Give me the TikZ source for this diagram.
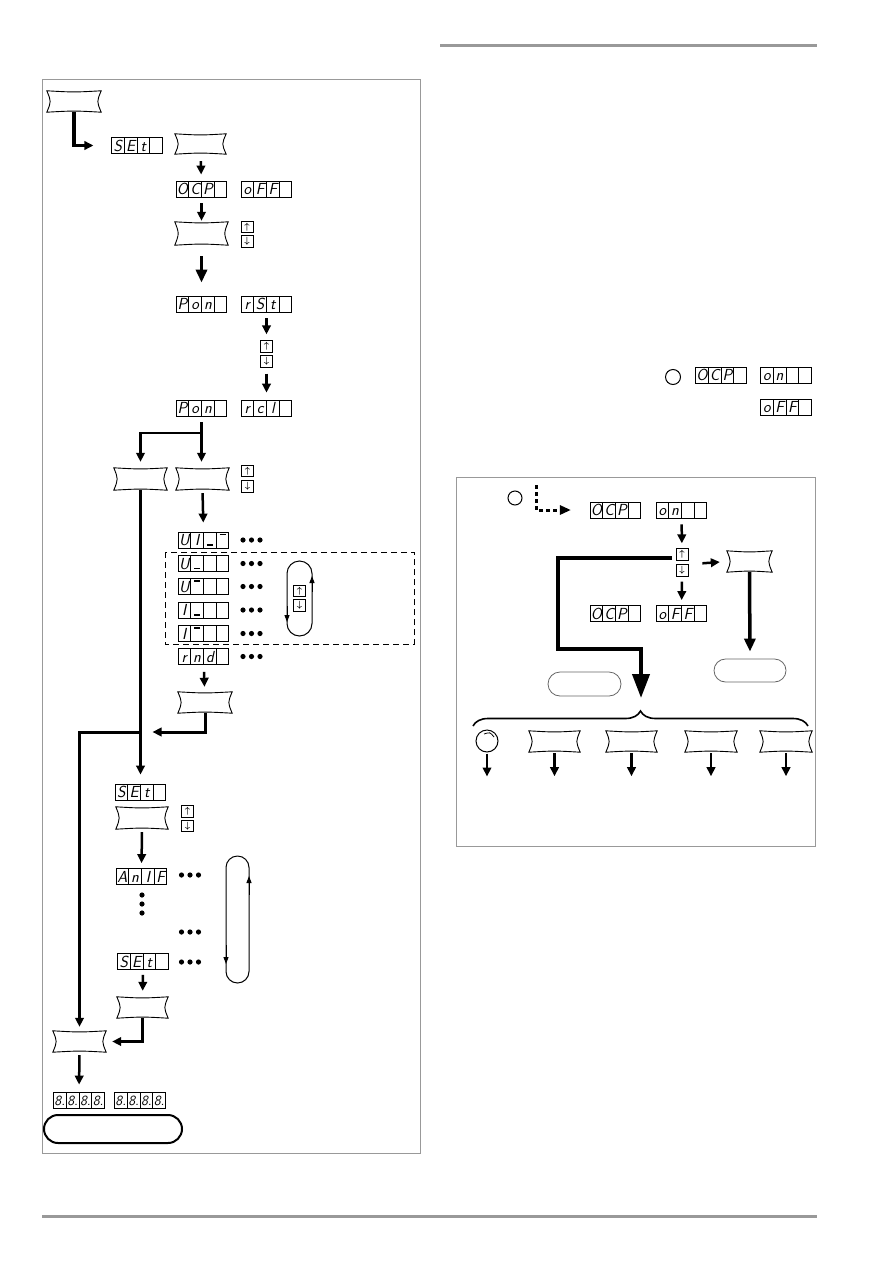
\documentclass[tikz,border=0pt]{standalone}
\usetikzlibrary{arrows.meta,shapes.multipart,calc,decorations.pathreplacing}
\newcommand\segfont{\fontsize{16}{16}\selectfont\sffamily\slshape}
\newcommand\cell[1]{\makebox[12pt][c]{\rule[-2.5pt]{0pt}{16pt}#1}}
\newcommand\segs[4]{\cell{#1}\nodepart{two}\cell{#2}\nodepart{three}\cell{#3}\nodepart{four}\cell{#4}}
\newcommand\segtop{\rule[10.5pt]{6pt}{1.2pt}}
\newcommand\segbot{\rule[0pt]{6pt}{1.2pt}}
\begin{document}
\begin{tikzpicture}[x=1pt, y=-1pt,
    disp/.style={draw, line width=0.8pt, rectangle split, rectangle split horizontal,
      rectangle split parts=4, inner sep=0pt, font=\segfont},
    keycap/.style={minimum width=#1, minimum height=21pt, inner sep=0pt},
    keycap/.default=52pt,
    pillow/.style={line width=0.9pt, fill=white},
    arrkey/.style={draw, line width=0.8pt, minimum width=12pt, minimum height=11.5pt,
      inner sep=0pt, font=\small\boldmath},
    dot/.style={fill=black},
    pill/.style={draw, rounded corners=11.5pt, minimum height=23pt, inner sep=0pt},
    flow/.style={line width=2.5pt, -{Triangle[length=9pt,width=8.5pt]}},
    bigflow/.style={line width=3.5pt, -{Triangle[length=13pt,width=11pt]}},
    hugeflow/.style={line width=4pt, -{Triangle[length=24pt,width=17pt]}},
    loopline/.style={line width=1pt},
    looptip/.style={line width=1pt, -{Triangle[length=7pt,width=5pt]}},
    frame/.style={draw=black!40, line width=1pt},
    rule/.style={draw=black!40, line width=3pt}
]
  \useasboundingbox (0,0) rectangle (893,1263);
  \draw[rule] (440,46) -- (817,46);
  \draw[rule] (42,1216) -- (817,1216);
  \draw[frame] (42,79) rectangle (420,1153);
  \draw[frame] (456,477) rectangle (815,846);

  % left panel
  \node[keycap=54pt] (k1) at (74,101.5) {};
  \node[disp] (set1) at (137,145.5) {\segs{S}{E}{t}{}};
  \node[keycap=51pt, minimum height=20pt] (k2) at (200.5,144) {};
  \node[disp] (ocp1) at (201.5,189) {\segs{O}{C}{P}{}};
  \node[disp] (off1) at (266.5,189) {\segs{o}{F}{F}{}};
  \node[keycap=53pt, minimum height=23pt] (k3) at (201.5,233.5) {};
  \node[arrkey] (up1) at (247,227) {$\uparrow$};
  \node[arrkey] (dn1) at (247,241.5) {$\downarrow$};
  \node[disp] (pon1) at (201.5,304) {\segs{P}{o}{n}{}};
  \node[disp] (rst) at (266.5,304) {\segs{r}{S}{t}{}};
  \node[arrkey] (up2) at (266.5,346.5) {$\uparrow$};
  \node[arrkey] (dn2) at (266.5,361.5) {$\downarrow$};
  \node[disp] (pon2) at (201.5,408) {\segs{P}{o}{n}{}};
  \node[disp] (rcl) at (266.5,408) {\segs{r}{c}{l}{}};
  \node[keycap=53pt, minimum height=22pt] (k4) at (140.5,479) {};
  \node[keycap=53pt, minimum height=22pt] (k5) at (202.5,479) {};
  \node[arrkey] (up3) at (247.5,471) {$\uparrow$};
  \node[arrkey] (dn3) at (247.5,486.5) {$\downarrow$};
  \node[disp] (ui) at (203.5,540) {\segs{U}{I}{\segbot}{\segtop}};
  \node[disp] (u1) at (203.5,563.5) {\segs{U}{\segbot}{}{}};
  \node[disp] (u2) at (203.5,586.5) {\segs{U}{\segtop}{}{}};
  \node[disp] (i1) at (203.5,610) {\segs{I}{\segbot}{}{}};
  \node[disp] (i2) at (203.5,633.5) {\segs{I}{\segtop}{}{}};
  \node[disp] (rnd) at (203.5,656.5) {\segs{r}{n}{d}{}};
  \foreach \y in {540,563.5,586.5,610,633.5,656.5}
    \foreach \x in {243,251.5,260}
      \fill[dot] (\x,\y) circle (2.6pt);
  \draw[line width=0.8pt, dash pattern=on 6pt off 4pt] (165,552) rectangle (414,644);
  \node[arrkey] (up4) at (299.5,591) {$\uparrow$};
  \node[arrkey] (dn4) at (299.5,605.5) {$\downarrow$};
  \draw[loopline, rounded corners=12.5pt] (287,561) rectangle (312,636);
  \draw[looptip] (312,592) -- (312,576);
  \draw[looptip] (287,606) -- (287,622);
  \node[keycap=54pt] (k6) at (205,702.5) {};
  \node[disp] (set2) at (140.5,792) {\segs{S}{E}{t}{}};
  \node[keycap=52pt, minimum height=22pt] (k7) at (142,818) {};
  \node[arrkey] (up5) at (187.5,811.5) {$\uparrow$};
  \node[arrkey] (dn5) at (187.5,826) {$\downarrow$};
  \node[disp] (anif) at (141.5,876.5) {\segs{A}{n}{I}{F}};
  \foreach \y in {875,932,962}
    \foreach \x in {181.5,190,198.5}
      \fill[dot] (\x,\y) circle (2.6pt);
  \foreach \y in {895,904,913}
    \fill[dot] (142,\y) circle (2.6pt);
  \node[disp] (set3) at (143,961.5) {\segs{S}{E}{t}{}};
  \draw[loopline, rounded corners=11.5pt] (226,856) rectangle (249,983);
  \draw[looptip] (249,895) -- (249,876);
  \draw[looptip] (226,945) -- (226,964);
  \node[keycap=51pt] (k8) at (142.5,1007.5) {};
  \node[keycap=53pt] (k9) at (79.5,1041.5) {};
  \node[disp, font=\fontsize{14}{14}\selectfont\sffamily\slshape] (num1) at (79,1100)
    {\segs{8.}{8.}{8.}{8.}};
  \node[disp, font=\fontsize{14}{14}\selectfont\sffamily\slshape] (num2) at (140,1100)
    {\segs{8.}{8.}{8.}{8.}};
  \node[pill, line width=2pt, rounded corners=14pt, minimum width=138pt, minimum height=28pt]
    (pill1) at (113,1129) {};
  \coordinate (lb) at (140.5,732);

  \draw[flow, line width=3.5pt, shorten >=18pt] (k1.south) |- (set1.west);
  \draw[flow, shorten <=7pt, shorten >=6pt] (k2) -- (ocp1);
  \draw[flow, shorten <=6pt, shorten >=1pt] (ocp1) -- (k3);
  \draw[bigflow, shorten <=11pt, shorten >=13pt] (k3) -- (pon1);
  \draw[flow, shorten <=6pt, shorten >=6pt] (rst) -- (up2);
  \draw[flow, shorten <=6pt, shorten >=7pt] (dn2) -- (rcl);
  \draw[flow, shorten <=6pt, shorten >=6pt] (pon2.south) -- (pon2.south |- k5.north);
  \draw[flow, shorten >=6pt] (201.5,433) -| (k4.north);
  \draw[flow, line width=3pt, shorten >=9pt] (k4.south) -- (set2.north);
  \draw[flow, line width=3pt, shorten >=4pt] (lb) -| (k9.north);
  \draw[flow, shorten <=3pt, shorten >=9pt] (k5.south) -- (ui.north);
  \draw[flow, shorten <=7pt, shorten >=5pt] (rnd) -- (k6);
  \draw[flow, line width=3pt, shorten >=12pt] (k6.south) |- (lb);
  \draw[flow, shorten <=3pt, shorten >=5pt] (k7.south) -- (anif.north);
  \draw[flow, shorten <=5pt, shorten >=6pt] (set3) -- (k8);
  \draw[flow, line width=3pt, shorten >=6pt] (k8.south) |- (k9.east);
  \draw[flow, shorten <=3pt, shorten >=7pt] (k9.south) -- (num1.north);

  % right panel
  \node[circle, draw, line width=1pt, minimum size=15pt, inner sep=0pt] (sw1) at (673,377) {};
  \node[disp] (ocp2) at (721,375) {\segs{O}{C}{P}{}};
  \node[disp] (on2) at (786,375) {\segs{o}{n}{}{}};
  \node[disp] (off2) at (786,407) {\segs{o}{F}{F}{}};

  \node[circle, draw, line width=1pt, minimum size=14pt, inner sep=0pt] (sw2) at (515,498) {};
  \coordinate (dstart) at (536,485);
  \node[disp] (ocp3) at (615.5,510) {\segs{O}{C}{P}{}};
  \node[disp] (on3) at (681.5,510) {\segs{o}{n}{}{}};
  \node[arrkey] (up6) at (682,554.5) {$\uparrow$};
  \node[arrkey] (dn6) at (682,570.5) {$\downarrow$};
  \node[keycap=45pt] (k10) at (749.5,561.5) {};
  \node[pill, draw=black!60, line width=0.8pt, minimum width=72pt] (pillr) at (750,670.5) {};
  \node[disp] (ocp4) at (615.5,613.5) {\segs{O}{C}{P}{}};
  \node[disp] (off4) at (681.5,613.5) {\segs{o}{F}{F}{}};
  \node[pill, draw=black!60, line width=0.8pt, minimum width=73pt, minimum height=24pt,
    rounded corners=12pt] (pilll) at (584.5,684) {};
  \node[circle, draw, line width=1pt, minimum size=22pt, inner sep=0pt] (knob) at (487,741) {};
  \node[keycap=51pt] (b1) at (554.5,741.5) {};
  \node[keycap=51pt] (b2) at (631.5,741.5) {};
  \node[keycap=52pt] (b3) at (711,741.5) {};
  \node[keycap=52pt] (b4) at (786,741.5) {};
  \coordinate (c0) at (672,558);
  \coordinate (c1) at (558,649);
  \coordinate (bt) at (641,698);
  \coordinate (bl) at (473,726);
  \coordinate (br) at (808,726);

  \draw[line width=3pt, dash pattern=on 3.5pt off 3.5pt, -{Triangle[length=11pt,width=9pt]},
    shorten >=19pt] (dstart) |- (ocp3.west);
  \draw[flow, shorten <=6pt, shorten >=5pt] (on3) -- (up6);
  \draw[flow, shorten <=14pt, shorten >=7pt] (dn6.north east) -- (k10.west);
  \draw[bigflow, shorten >=7pt] (k10.south) -- (pillr.north);
  \draw[flow, shorten <=5pt, shorten >=5pt] (dn6) -- (off4);
  \draw[hugeflow] (c0) -| (c1) -| (bt);
  \draw[line width=1.6pt, decorate, decoration={brace, amplitude=15pt}] (bl) -- (br);
  \draw[line width=0.8pt] (484,734) .. controls (490,732) .. (494,737);
  \foreach \n in {knob,b1,b2,b3,b4}
    \draw[flow] (\n.south) ++(0,1) -- ++(0,23);

  % key outlines
  \foreach \k in {k1,k2,k3,k4,k5,k6,k7,k8,k9,k10,b1,b2,b3,b4}
    \draw[pillow] (\k.north west) .. controls ($(\k.north)+(0,1.5)$) .. (\k.north east)
      .. controls ($(\k.east)+(-4.5,0)$) .. (\k.south east)
      .. controls ($(\k.south)+(0,-1.5)$) .. (\k.south west)
      .. controls ($(\k.west)+(4.5,0)$) .. (\k.north west) -- cycle;
\end{tikzpicture}
\end{document}
